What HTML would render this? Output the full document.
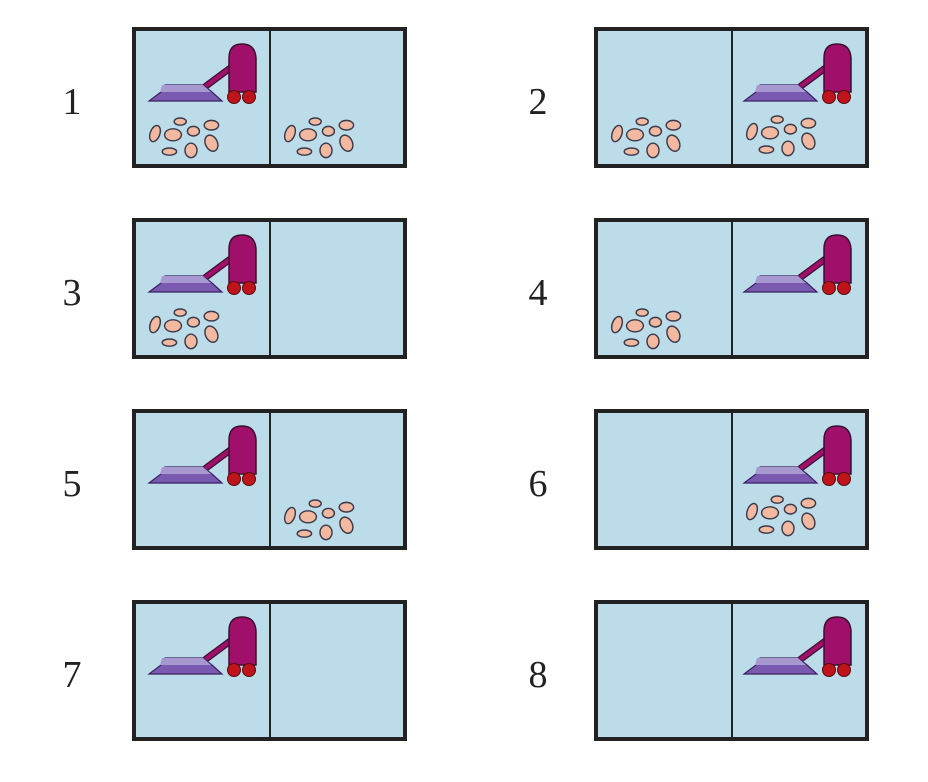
<!DOCTYPE html>
<html><head><style>
html,body{margin:0;padding:0;background:#fff;width:928px;height:782px;overflow:hidden}
</style></head><body>
<svg width="928" height="782" xmlns="http://www.w3.org/2000/svg">
<defs>
<g id="vac">
  <line x1="74" y1="58" x2="101" y2="38" stroke="#3a1030" stroke-width="7" stroke-linecap="round"/>
  <line x1="74" y1="58" x2="101" y2="38" stroke="#a0106a" stroke-width="4.5" stroke-linecap="round"/>
  <path d="M17,73 L90,73 L80,64 L71,57 L33,57 L29,64 Z" fill="#7a5ab0" stroke="#3a2060" stroke-width="1.2"/>
  <path d="M30,57 L71,57 L79,64 L28,64 Z" fill="#a898d0"/>
  <path d="M97,64 L97,30 Q97,16 110,16 Q123,16 124,30 L124,64 Z" fill="#a0106a" stroke="#3a1030" stroke-width="1.5"/>
  <circle cx="102" cy="69" r="6.5" fill="#c0141c" stroke="#5a0a0a" stroke-width="1"/>
  <circle cx="117" cy="69" r="6.5" fill="#c0141c" stroke="#5a0a0a" stroke-width="1"/>
</g>
<g id="dirt0" fill="#f2b8a0" stroke="#3a3a4a" stroke-width="1.2">
  <ellipse cx="47" cy="93" rx="5" ry="3"/>
  <ellipse cx="26" cy="103" rx="4" ry="7" transform="rotate(20 26 103)"/>
  <ellipse cx="41" cy="104" rx="7" ry="5"/>
  <ellipse cx="58" cy="101" rx="5" ry="4"/>
  <ellipse cx="73" cy="96" rx="6" ry="4"/>
  <ellipse cx="73" cy="111" rx="5" ry="7" transform="rotate(-25 73 111)"/>
  <ellipse cx="38" cy="118" rx="6" ry="3"/>
  <ellipse cx="56" cy="117" rx="5" ry="6"/>
</g>
<g id="dirt"><g transform="translate(53,108) scale(1.2) translate(-51,-105)"><use href="#dirt0"/></g></g>
<g id="box">
  <rect x="134" y="1" width="271" height="137" fill="#bcdcea" stroke="#222" stroke-width="4"/>
  <line x1="270" y1="1" x2="270" y2="138" stroke="#222" stroke-width="2"/>
</g>
</defs>
<g font-family="Liberation Serif, serif" font-size="38" fill="#222" text-anchor="middle">
<text x="72" y="114">1</text><text x="538" y="114">2</text>
<text x="72" y="305">3</text><text x="538" y="305">4</text>
<text x="72" y="496">5</text><text x="538" y="496">6</text>
<text x="72" y="687">7</text><text x="538" y="687">8</text>
</g>
<g transform="translate(0,28)"><use href="#box"/><g transform="translate(132,0)"><use href="#vac"/><use href="#dirt"/><g transform="translate(135,0)"><use href="#dirt"/></g></g></g>
<g transform="translate(462,28)"><use href="#box"/><g transform="translate(132,0)"><use href="#dirt"/><g transform="translate(133,0)"><use href="#vac"/></g><g transform="translate(135,-2)"><use href="#dirt"/></g></g></g>
<g transform="translate(0,219)"><use href="#box"/><g transform="translate(132,0)"><use href="#vac"/><use href="#dirt"/></g></g>
<g transform="translate(462,219)"><use href="#box"/><g transform="translate(132,0)"><use href="#dirt"/><g transform="translate(133,0)"><use href="#vac"/></g></g></g>
<g transform="translate(0,410)"><use href="#box"/><g transform="translate(132,0)"><use href="#vac"/><g transform="translate(135,0)"><use href="#dirt"/></g></g></g>
<g transform="translate(462,410)"><use href="#box"/><g transform="translate(132,0)"><g transform="translate(133,0)"><use href="#vac"/></g><g transform="translate(135,-4)"><use href="#dirt"/></g></g></g>
<g transform="translate(0,601)"><use href="#box"/><g transform="translate(132,0)"><use href="#vac"/></g></g>
<g transform="translate(462,601)"><use href="#box"/><g transform="translate(132,0)"><g transform="translate(133,0)"><use href="#vac"/></g></g></g>
</svg>
</body></html>
